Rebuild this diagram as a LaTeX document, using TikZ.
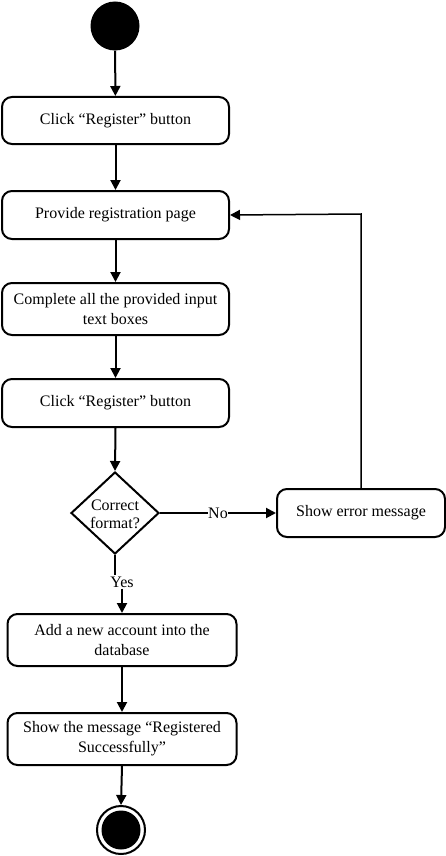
\documentclass[tikz,border=0pt]{standalone}
\usepackage{fontspec}
\setmainfont{Liberation Serif}
\usetikzlibrary{arrows.meta,shapes.geometric}
\begin{document}
\begin{tikzpicture}[x=1pt,y=-1pt,
  font=\fontsize{16}{20}\selectfont,
  act/.style={draw,line width=2pt,rounded corners=10pt,align=center,inner sep=2pt},
  arr/.style={line width=2pt,-{Triangle[length=10pt,width=10pt]}},
  thinarr/.style={line width=1.5pt,-{Triangle[length=10pt,width=10pt]}},
  lbl/.style={fill=white,inner sep=0.5pt}]
\useasboundingbox (0,0) rectangle (446,856);
\node[circle,fill=black,minimum size=49pt,inner sep=0] (start) at (115,26) {};
\node[act,minimum width=227pt,minimum height=47pt] (b1) at (115.5,120.5) {Click “Register” button};
\node[act,minimum width=227pt,minimum height=48pt] (b2) at (115.5,215) {Provide registration page};
\node[act,minimum width=227pt,minimum height=52pt] (b3) at (115.5,309) {Complete all the provided input\\text boxes};
\node[act,minimum width=227pt,minimum height=48pt] (b4) at (115.5,403) {Click “Register” button};
\node[diamond,draw,line width=2pt,minimum width=88pt,minimum height=82pt,inner sep=0,align=center] (dia) at (115,513) {};
\node[align=center,font=\fontsize{16}{18}\selectfont] (diat) at (115,514) {Correct\\format?};
\node[act,minimum width=168pt,minimum height=48pt] (err) at (361,513) {Show error message};
\node[act,minimum width=229pt,minimum height=52pt] (b5) at (122,640) {Add a new account into the\\database};
\node[act,minimum width=229pt,minimum height=52pt] (b6) at (122,739) {Show the message “Registered\\Successfully”};
\node[circle,draw,line width=2pt,minimum size=48pt,inner sep=0] (endo) at (121,830) {};
\node[circle,fill=black,minimum size=39pt,inner sep=0] (endi) at (121,830) {};
\node[lbl] (no) at (218,513) {No};
\node[inner sep=1pt] (yes) at (122,582) {Yes};
\coordinate (c1) at (361,214);
\draw[arr] (start) -- (b1);
\draw[arr] (b1) -- (b2);
\draw[arr] (b2) -- (b3);
\draw[arr] (b3) -- (b4);
\draw[arr] (b4.south) -- (dia.north);
\draw[line width=2pt] (dia.east) -- (no.west);
\draw[arr] (no.east) -- (err.west);
\draw[thinarr] (err.north) -- (c1) -- (b2.east);
\draw[line width=2pt] (dia.south) -- (dia.south |- yes.north);
\draw[arr] (yes.south) -- (b5.north);
\draw[arr] (b5) -- (b6);
\draw[arr] (b6.south) -- (endo.north);
\end{tikzpicture}
\end{document}
